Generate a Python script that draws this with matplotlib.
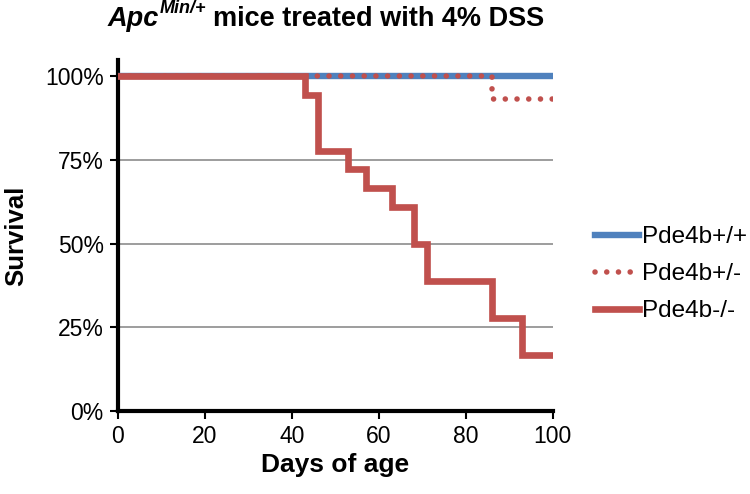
import numpy as np
import matplotlib.pyplot as plt
from matplotlib.ticker import PercentFormatter
from matplotlib.transforms import offset_copy

# Kaplan-Meier style survival curves (days of age, fraction surviving)
days_wt = [0, 100]
surv_wt = [1.0, 1.0]

days_het = [0, 86, 100]
surv_het = [1.0, 0.933, 0.933]

days_ko = [0, 43, 46, 53, 57, 63, 68, 71, 86, 93, 100]
surv_ko = [1.0, 0.944, 0.778, 0.722, 0.667, 0.611, 0.50, 0.389, 0.278, 0.167, 0.167]

labels = ['Pde4b+/+', 'Pde4b+/-', 'Pde4b-/-']

blue = '#4F81BD'
red = '#C0504D'

plt.rcParams['font.family'] = 'Liberation Sans'

fig = plt.figure(figsize=(7.5, 4.94), dpi=100)
ax = fig.add_axes([0.157, 0.168, 0.58, 0.711])

ax.step(days_wt, surv_wt, where='post', color=blue, lw=4.6, label=labels[0], zorder=3)
ax.step(days_het, surv_het, where='post', color=red, lw=4.0, ls=(0, (0.01, 2.1)),
        dash_capstyle='round', label=labels[1], zorder=4)
ax.step(days_ko, surv_ko, where='post', color=red, lw=4.8, label=labels[2], zorder=5,
        solid_joinstyle='miter')

ax.set_xlim(0, 100)
ax.set_ylim(0, 1.05)
ax.set_xticks(np.arange(0, 101, 20))
ax.set_yticks([0, 0.25, 0.5, 0.75, 1.0])
ax.yaxis.set_major_formatter(PercentFormatter(1.0, decimals=0))

for y in [0.25, 0.5, 0.75, 1.0]:
    ax.axhline(y, color='#8c8c8c', lw=1.2, zorder=1)

for s in ['top', 'right']:
    ax.spines[s].set_visible(False)
for s in ['left', 'bottom']:
    ax.spines[s].set_linewidth(3)
ax.tick_params(direction='out', length=6, width=1.5, labelsize=16.5, pad=4)

ax.set_xlabel('Days of age', fontsize=19, fontweight='bold', labelpad=4)
ax.set_ylabel('Survival', fontsize=18.5, fontweight='bold', labelpad=12)

# title: italic "Apc" with superscript, then plain bold text
fig.canvas.draw()
r = fig.canvas.get_renderer()
x0, yb = 0.143, 0.947
t1 = fig.text(x0, yb, 'Apc', fontsize=19.5, fontweight='bold', style='italic', va='baseline')
w1 = t1.get_window_extent(r).width
tr = offset_copy(fig.transFigure, fig=fig, x=w1 * 72 / fig.dpi + 1, y=9.5, units='points')
t2 = fig.text(x0, yb, 'Min/+', fontsize=13, fontweight='bold', style='italic',
              va='baseline', transform=tr)
w2 = t2.get_window_extent(r).width
tr2 = offset_copy(fig.transFigure, fig=fig, x=(w1 + w2) * 72 / fig.dpi + 6, y=0, units='points')
fig.text(x0, yb, 'mice treated with 4% DSS', fontsize=19.5, fontweight='bold',
         va='baseline', transform=tr2)

ax.legend(loc='center left', bbox_to_anchor=(0.793, 0.445), bbox_transform=fig.transFigure,
          frameon=False, fontsize=17.5, handlelength=1.8, handletextpad=0.15,
          labelspacing=0.62, borderpad=0, borderaxespad=0)

fig.savefig('out.png', dpi=100)
